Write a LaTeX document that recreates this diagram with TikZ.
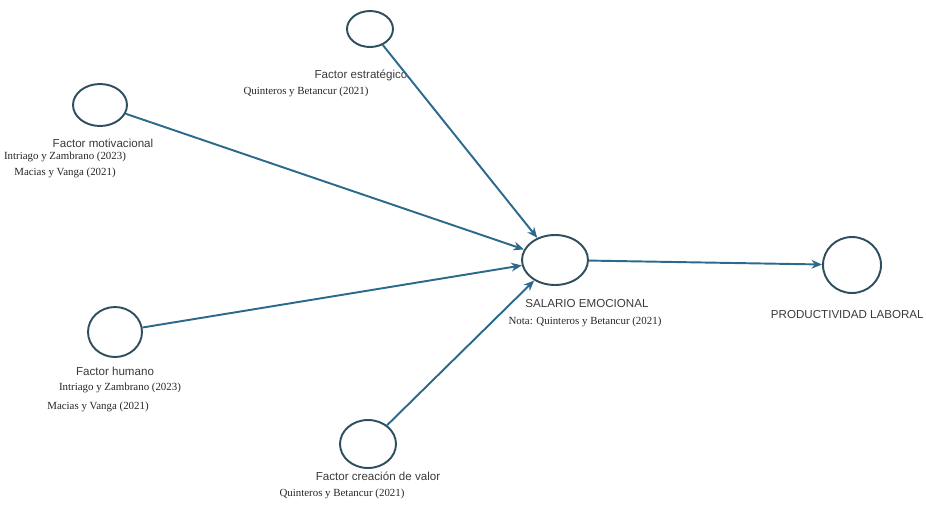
\documentclass[tikz,border=0pt]{standalone}
\usepackage{fontspec}
\usepackage{tikz}
\usetikzlibrary{shapes.geometric,arrows.meta}
\setmainfont{Liberation Serif}
\setsansfont{Liberation Sans}
\definecolor{linea}{HTML}{2B6A8C}
\definecolor{borde}{HTML}{2F4F5F}
\definecolor{texto}{HTML}{3A3A3A}
\tikzset{
  factor/.style={ellipse, draw=borde, line width=1.1pt, inner sep=0pt},
  etiqueta/.style={font=\sffamily\fontsize{6.6}{7}\selectfont, text=texto, inner sep=0pt},
  cita/.style={font=\fontsize{6.2}{7}\selectfont, text=black!85, inner sep=0pt},
  flecha/.style={draw=linea, line width=1.1pt, -{Stealth[length=6pt,width=5pt]}}
}

\begin{document}
\begin{tikzpicture}[x=0.02cm, y=-0.02cm]
\useasboundingbox (0,0) rectangle (926,504);
% circulos
\node [factor, minimum width=1.08cm, minimum height=0.84cm] (mot) at (100,105) {};
\node [factor, minimum width=0.92cm, minimum height=0.72cm] (est) at (370,29) {};
\node [factor, minimum width=1.08cm, minimum height=1.0cm] (hum) at (115,332) {};
\node [factor, minimum width=1.12cm, minimum height=0.96cm] (val) at (368,444) {};
\node [factor, minimum width=1.32cm, minimum height=1.0cm] (sal) at (555,260) {};
\node [factor, minimum width=1.16cm, minimum height=1.12cm] (pro) at (852,265) {};
% etiquetas
\node [etiqueta] (motT) at (103,143) {Factor motivacional};
\node [cita] (motA) at (65,157) {Intriago y Zambrano (2023)};
\node [cita] (motB) at (65,173) {Macias y Vanga (2021)};
\node [etiqueta] (estT) at (361,75) {Factor estratégico};
\node [cita] (estA) at (306,92) {Quinteros y Betancur (2021)};
\node [etiqueta] (humT) at (115,371) {Factor humano};
\node [cita] (humA) at (120,388) {Intriago y Zambrano (2023)};
\node [cita] (humB) at (98,407) {Macias y Vanga (2021)};
\node [etiqueta] (valT) at (378,476) {Factor creación de valor};
\node [cita] (valA) at (342,494) {Quinteros y Betancur (2021)};
\node [etiqueta] (salT) at (587,304) {SALARIO EMOCIONAL};
\node [cita] (salA) at (585,322) {Nota: Quinteros y Betancur (2021)};
\node [etiqueta, anchor=east] (proT) at (924,315) {PRODUCTIVIDAD LABORAL};
% flechas
\draw [flecha] (mot) -- (sal);
\draw [flecha] (est) -- (sal);
\draw [flecha] (hum) -- (sal);
\draw [flecha] (val) -- (sal);
\draw [flecha] (sal) -- (pro);
\end{tikzpicture}
\end{document}
